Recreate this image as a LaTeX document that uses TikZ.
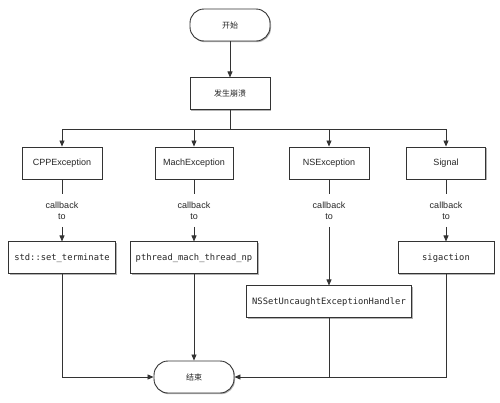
\documentclass[tikz,border=0pt]{standalone}
\usepackage{fontspec}
\setmainfont{Liberation Sans}
\setmonofont{DejaVu Sans Mono}
\newfontfamily\cjk{Noto Sans CJK SC}
\usetikzlibrary{positioning,arrows.meta,shadows}

\begin{document}
\begin{tikzpicture}
    [ x = 1pt, y = -1pt
    , every node/.style =
      { font=\fontsize{9}{11}\selectfont, text=black!85 }
    , box/.style =
      { draw=black!80, line width=.9pt, fill=white, minimum width=80pt,
        minimum height=32pt, inner sep=0pt,
        drop shadow={shadow xshift=1pt, shadow yshift=-1.2pt, opacity=.3, fill=black} }
    , terminal/.style =
      { box, rounded corners=14pt }
    , func/.style =
      { box, font=\ttfamily\fontsize{8.8}{10}\selectfont }
    , cjktext/.style =
      { font=\cjk\fontsize{8}{10}\selectfont }
    , cbtext/.style =
      { align=center, minimum height=32pt, inner sep=0pt }
    , edge/.style =
      { draw=black!80, line width=.8pt }
    , arrow/.style =
      { edge, -{Triangle[length=6pt, width=5pt]} }
    ]
    \useasboundingbox (0,0) rectangle (500,402);

    \node [terminal, cjktext] (start) at (230,25) {开始};
    \node [box, cjktext] (crash) [below=36pt of start] {发生崩溃};
    \coordinate (bus) at (230,129);

    \node [box] (cpp) at (62,163) {CPPException};
    \node [box, minimum width=78pt] (mach) at (194,163) {MachException};
    \node [box] (ns) at (329,163) {NSException};
    \node [box, minimum width=79pt] (signal) at (446,163) {Signal};

    \node [cbtext] (cbcpp) [below=15pt of cpp] {callback\\to};
    \node [cbtext] (cbmach) [below=15pt of mach] {callback\\to};
    \node [cbtext] (cbns) [below=15pt of ns] {callback\\to};
    \node [cbtext] (cbsignal) [below=15pt of signal] {callback\\to};

    \node [func, minimum width=107pt] (setterm) [below=62pt of cpp] {std::set\_terminate};
    \node [func, minimum width=127pt] (pthread) [below=62pt of mach] {pthread\_mach\_thread\_np};
    \node [func, minimum width=165pt] (nsset) [below=106pt of ns] {NSSetUncaughtExceptionHandler};
    \node [func, minimum width=96pt] (sigaction) [below=62pt of signal] {sigaction};

    \node [terminal, cjktext] (end) at (194,377) {结束};

    \draw [arrow] (start) -- (crash);
    \draw [edge] (crash) -- (bus);
    \foreach \n in {cpp,mach,ns,signal}
      \draw [arrow] (bus) -| (\n);

    \draw [edge] (cpp) -- (cbcpp);
    \draw [arrow] (cbcpp) -- (setterm);
    \draw [edge] (mach) -- (cbmach);
    \draw [arrow] (cbmach) -- (pthread);
    \draw [edge] (ns) -- (cbns);
    \draw [arrow] (cbns) -- (nsset);
    \draw [edge] (signal) -- (cbsignal);
    \draw [arrow] (cbsignal) -- (sigaction);

    \draw [arrow] (setterm) |- (end);
    \draw [arrow] (pthread) -- (end);
    \draw [edge] (nsset) -- (nsset |- end);
    \draw [arrow] (sigaction) |- (end);
\end{tikzpicture}
\end{document}
